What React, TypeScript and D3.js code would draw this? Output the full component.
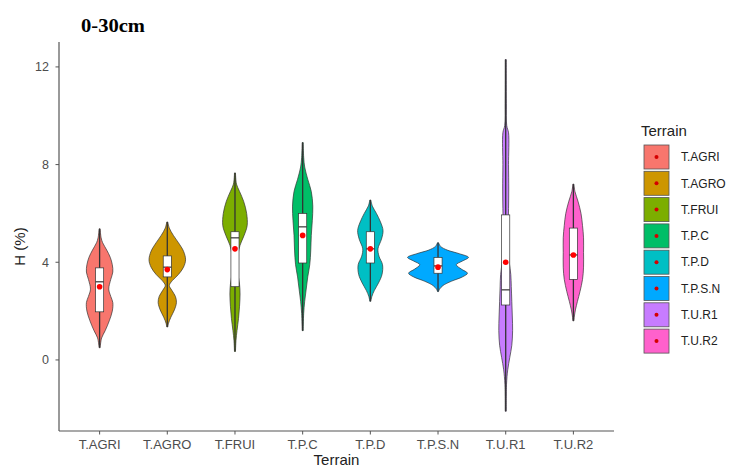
import React from "react";
import * as d3 from "d3";

// Terrain categories and their ggplot-style hue palette
const categories = ["T.AGRI", "T.AGRO", "T.FRUI", "T.P.C", "T.P.D", "T.P.S.N", "T.U.R1", "T.U.R2"];
const colors = ["#F8766D", "#CD9600", "#7CAE00", "#00BE67", "#00BFC4", "#00A9FF", "#C77CFF", "#FF61CC"];

// Box-plot summaries of H (%)
const whiskerLow = [0.5, 1.35, 0.35, 1.2, 2.4, 2.8, -2.1, 1.6];
const q1 = [1.97, 3.4, 3.0, 3.97, 3.97, 3.55, 2.25, 3.3];
const median = [3.2, 3.8, 5.0, 5.45, 4.55, 3.85, 2.87, 4.3];
const q3 = [3.77, 4.26, 5.25, 6.0, 5.25, 4.2, 5.94, 5.4];
const whiskerHigh = [5.37, 5.65, 7.66, 8.9, 6.55, 4.8, 12.3, 7.2];
const means = [3.0, 3.7, 4.55, 5.1, 4.55, 3.8, 4.0, 4.3];

// Kernel density profiles: [H value, relative density]
const densityAGRI = [[5.37, 0.5], [5.0, 1.5], [4.8, 3], [4.5, 7], [4.2, 10.5], [3.9, 12.5], [3.6, 13], [3.3, 11], [2.9, 9], [2.6, 11], [2.35, 13], [2.0, 12.5], [1.6, 9.5], [1.2, 5.5], [0.9, 2], [0.5, 0.5]];
const densityAGRO = [[5.65, 0.5], [5.4, 2], [5.1, 6], [4.8, 11], [4.45, 16], [4.1, 18], [3.8, 16], [3.5, 11], [3.25, 5], [3.05, 2], [2.85, 4.5], [2.6, 8], [2.35, 9], [2.05, 7], [1.75, 3.5], [1.5, 1.2], [1.35, 0.5]];
const densityFRUI = [[7.66, 0.5], [7.2, 1.5], [6.9, 4.5], [6.5, 8.5], [6.0, 11.5], [5.5, 12], [5.1, 9], [4.7, 5], [4.3, 3], [3.9, 2.5], [3.5, 3], [3.1, 4.5], [2.7, 5], [2.2, 4.5], [1.7, 3.5], [1.2, 2], [0.8, 1], [0.35, 0.5]];
const densityPC = [[8.9, 0.5], [8.3, 1], [7.9, 2], [7.4, 5], [6.9, 8.5], [6.3, 10], [5.7, 9.5], [5.1, 8.5], [4.5, 8], [3.9, 7], [3.4, 5], [2.9, 3.5], [2.4, 2], [1.9, 1], [1.2, 0.5]];
const densityPD = [[6.55, 0.5], [6.3, 2], [6.0, 6], [5.65, 10], [5.3, 12.5], [4.95, 11], [4.55, 7.5], [4.25, 8.5], [3.9, 12], [3.5, 11.5], [3.15, 8], [2.85, 4], [2.6, 1.5], [2.4, 0.5]];
const densityPSN = [[4.8, 0.5], [4.65, 2.5], [4.5, 9], [4.35, 21], [4.2, 30], [4.05, 24], [3.9, 18], [3.72, 23], [3.55, 29], [3.4, 24], [3.22, 13], [3.05, 5], [2.9, 1.5], [2.8, 0.5]];
const densityUR1 = [[12.3, 0.5], [10.5, 0.6], [9.6, 1], [9.3, 2.8], [8.0, 2.8], [7.0, 3], [6.2, 2.8], [5.5, 2.4], [5.0, 2], [4.5, 2.2], [4.0, 3.5], [3.5, 5], [3.0, 5.5], [2.4, 6], [1.8, 6.5], [1.2, 6.8], [0.6, 6], [0.1, 4], [-0.4, 2], [-1.0, 0.8], [-2.1, 0.5]];
const densityUR2 = [[7.2, 0.5], [6.9, 1.5], [6.5, 4.5], [6.0, 7.5], [5.5, 9], [5.0, 10], [4.4, 10], [3.8, 10], [3.3, 9], [2.8, 6.5], [2.4, 4], [2.05, 2], [1.8, 1], [1.6, 0.5]];
const densities = [densityAGRI, densityAGRO, densityFRUI, densityPC, densityPD, densityPSN, densityUR1, densityUR2];

const yTicks = [0, 4, 8, 12];

const W = 734;
const H = 468;
const panel = { left: 59, right: 614, top: 42, bottom: 431 };

export default function App() {
  const x = d3
    .scalePoint<string>()
    .domain(categories)
    .range([panel.left, panel.right])
    .padding(0.6);
  const y = d3.scaleLinear().domain([-2.91, 13.02]).range([panel.bottom, panel.top]);
  const step = x.step();
  const halfW = d3.scaleLinear().domain([0, 30]).range([0, step * 0.45]);
  const boxHalf = step * 0.06;

  const axisColor = "#555555";
  const textColor = "#4D4D4D";
  const font = "'Liberation Sans', Arial, sans-serif";

  return (
    <svg width={W} height={H} style={{ position: "absolute", left: 0, top: 0, background: "#fff" }}>
      <text
        x={81}
        y={32}
        fontFamily="'Liberation Serif', 'Times New Roman', serif"
        fontWeight="bold"
        fontSize={18}
        textLength={64}
        lengthAdjust="spacingAndGlyphs"
        fill="#000"
      >
        0-30cm
      </text>

      {categories.map((c, i) => {
        const cx = x(c) as number;
        const area = d3
          .area<number[]>()
          .y((d) => y(d[0]))
          .x0((d) => cx - halfW(d[1]))
          .x1((d) => cx + halfW(d[1]))
          .curve(d3.curveCatmullRom);
        return (
          <g key={c}>
            <path d={area(densities[i]) as string} fill={colors[i]} stroke="#333" strokeWidth={0.7} />
            <line x1={cx} x2={cx} y1={y(whiskerLow[i])} y2={y(whiskerHigh[i])} stroke="#333" strokeWidth={1.3} />
            <rect
              x={cx - boxHalf}
              y={y(q3[i])}
              width={boxHalf * 2}
              height={y(q1[i]) - y(q3[i])}
              fill="#fff"
              stroke="#333"
              strokeWidth={0.7}
            />
            <line x1={cx - boxHalf} x2={cx + boxHalf} y1={y(median[i])} y2={y(median[i])} stroke="#333" strokeWidth={1.2} />
            <circle cx={cx} cy={y(means[i])} r={2.8} fill="#FF0000" />
          </g>
        );
      })}

      {/* axes */}
      <line x1={panel.left} x2={panel.left} y1={panel.top} y2={panel.bottom} stroke={axisColor} strokeWidth={1.2} />
      <line x1={panel.left} x2={panel.right} y1={panel.bottom} y2={panel.bottom} stroke={axisColor} strokeWidth={1.2} />
      {yTicks.map((t) => (
        <g key={t}>
          <line x1={panel.left - 3.5} x2={panel.left} y1={y(t)} y2={y(t)} stroke={axisColor} strokeWidth={1} />
          <text x={panel.left - 10} y={y(t)} dy="0.35em" textAnchor="end" fontFamily={font} fontSize={12.5} fill={textColor}>
            {t}
          </text>
        </g>
      ))}
      {categories.map((c) => (
        <g key={c}>
          <line x1={x(c)} x2={x(c)} y1={panel.bottom} y2={panel.bottom + 3.5} stroke={axisColor} strokeWidth={1} />
          <text x={x(c)} y={panel.bottom + 18} textAnchor="middle" fontFamily={font} fontSize={13} fill={textColor}>
            {c}
          </text>
        </g>
      ))}
      <text
        transform={`translate(25,${(panel.top + panel.bottom) / 2 + 10}) rotate(-90)`}
        textAnchor="middle"
        fontFamily={font}
        fontSize={15}
        fill="#222"
      >
        H (%)
      </text>
      <text x={(panel.left + panel.right) / 2} y={465} textAnchor="middle" fontFamily={font} fontSize={15} fill="#222">
        Terrain
      </text>

      {/* legend */}
      <text x={641} y={136} fontFamily={font} fontSize={15} fill="#222">
        Terrain
      </text>
      {categories.map((c, i) => {
        const cy = 157 + i * 26.3;
        return (
          <g key={c}>
            <rect x={644} y={cy - 12} width={25} height={24} fill={colors[i]} stroke="#555" strokeWidth={0.8} />
            <circle cx={656.5} cy={cy} r={2} fill="#D40000" />
            <text x={681} y={cy} dy="0.35em" fontFamily={font} fontSize={12} fill="#222">
              {c}
            </text>
          </g>
        );
      })}
    </svg>
  );
}
